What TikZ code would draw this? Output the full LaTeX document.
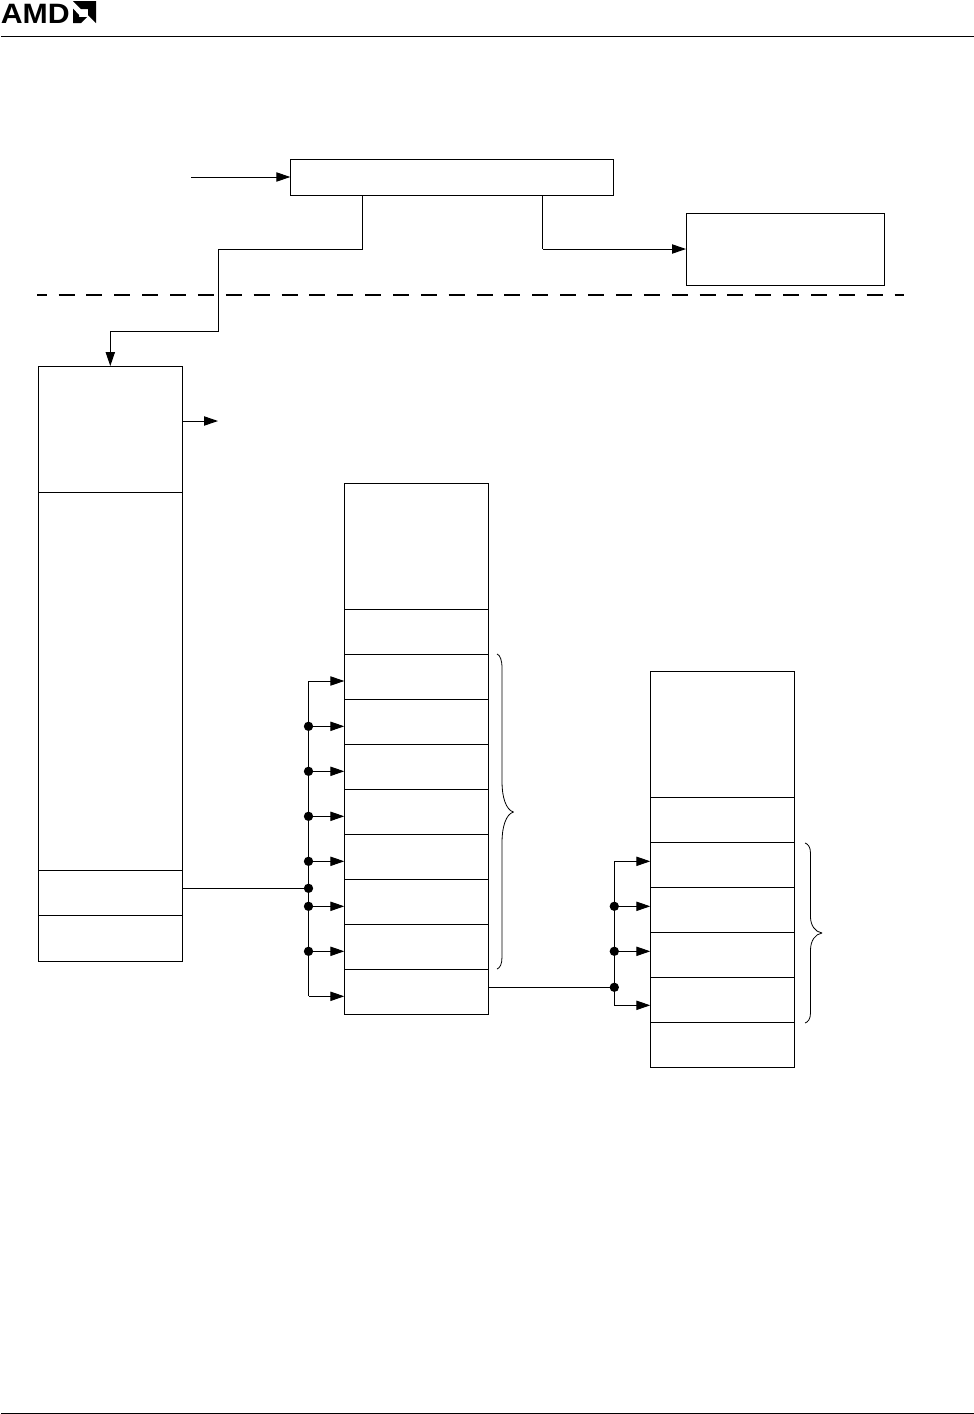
\documentclass[tikz,border=0pt]{standalone}
\usepackage{fontspec}
\newfontfamily\logofont{Liberation Sans}[Scale=1]
\usetikzlibrary{arrows.meta}
\tikzset{
  wire/.style={draw=black,line width=0.75pt},
  arr/.style={wire,-{Triangle[length=10.5pt,width=7pt]}},
  cellbox/.style={draw=black,line width=0.75pt,rectangle,inner sep=0pt,outer sep=0pt},
  junction/.style={circle,fill=black,draw=none,inner sep=0pt,outer sep=0pt,minimum size=7pt},
  bracepath/.style={draw=black,line width=0.6pt,line join=round},
  rule/.style={draw=black,line width=0.75pt},
  logofill/.style={fill=black,draw=none},
  dashrule/.style={draw=black,line width=1.2pt,dash pattern=on 12pt off 8.9pt,dash phase=4.7pt}
}
\newcommand{\cellnode}[5]{\node[cellbox,minimum width={(#4-#2)*0.75pt},minimum height={(#5-#3)*0.75pt}] (#1) at ({(#2+#4)/2},{(#3+#5)/2}) {};}
\begin{document}
\begin{tikzpicture}[x=0.75pt,y=-0.75pt]
\path[use as bounding box,fill=white] (0,0) rectangle (974,1414);
% header, footer
\coordinate (hl) at (1,36.7); \coordinate (hr) at (974,36.7);
\coordinate (fl) at (1,1413); \coordinate (fr) at (974,1413);
\draw[rule] (hl) -- (hr);
\draw[rule] (fl) -- (fr);
% logo
\node[anchor=base west,inner sep=0pt,outer sep=0pt,xscale=1.08] (logotext) at (0.8,23) {\logofont\bfseries\fontsize{21}{23}\selectfont AMD};
\fill[logofill] (73,1) -- (96,1) -- (96,23) -- (88,15) -- (88,9) -- (81,9) -- cycle;
\fill[logofill] (73,8.5) -- (79,15) -- (79,17) -- (87,17) -- (81,23) -- (73,23) -- cycle;
% top boxes
\cellnode{top}{290.3}{159}{613.7}{195}
\cellnode{side}{686}{213}{884.4}{285}
\coordinate (inflow) at (191,177);
\draw[arr] (inflow) -- (inflow -| top.west);
\coordinate (ja) at (362,249); \coordinate (jb) at (218,249);
\coordinate (jc) at (218,331); \coordinate (jd) at (110.3,331);
\coordinate (je) at (542.8,249);
% dashed line
\coordinate (dl) at (37,295); \coordinate (dr) at (903.5,295);
\draw[dashrule] (dl) -- (dr);
% left stack
\cellnode{la}{38.3}{366}{182.5}{492}
\cellnode{lb}{38.3}{492}{182.5}{870}
\cellnode{lc}{38.3}{870}{182.5}{915}
\cellnode{ld}{38.3}{915}{182.5}{961}
\draw[wire] (ja |- top.south) -- (ja) -- (jb) -- (jc) -- (jd) ;
\draw[arr] (jd) -- (jd |- la.north);
\draw[wire] (je |- top.south) -- (je);
\draw[arr] (je) -- (je -| side.west);
\coordinate (lout) at (218,421);
\draw[arr] (lout -| la.east) -- (lout);
% middle stack
\cellnode{ma}{344.3}{483}{488.4}{609}
\cellnode{mb}{344.3}{609}{488.4}{654}
\cellnode{m1}{344.3}{654}{488.4}{699}
\cellnode{m2}{344.3}{699}{488.4}{744}
\cellnode{m3}{344.3}{744}{488.4}{789}
\cellnode{m4}{344.3}{789}{488.4}{834}
\cellnode{m5}{344.3}{834}{488.4}{879}
\cellnode{m6}{344.3}{879}{488.4}{924}
\cellnode{m7}{344.3}{924}{488.4}{969}
\cellnode{m8}{344.3}{969}{488.4}{1014}
% middle bus
\coordinate (b1) at (308.5,681);
\node[junction] (b2) at (308.5,726.3) {};
\node[junction] (b3) at (308.5,771.3) {};
\node[junction] (b4) at (308.5,816.3) {};
\node[junction] (b5) at (308.5,861.3) {};
\node[junction] (bin) at (308.5,888.3) {};
\node[junction] (b6) at (308.5,906.3) {};
\node[junction] (b7) at (308.5,951.3) {};
\coordinate (b8) at (308.5,996.3);
\draw[wire] (b1) -- (b8);
\foreach \k/\m in {b1/m1,b2/m2,b3/m3,b4/m4,b5/m5,b6/m6,b7/m7,b8/m8}
  \draw[arr] (\k) -- (\k -| \m.west);
\draw[wire] (bin -| lc.east) -- (bin);
% right stack
\cellnode{ra}{650.3}{671}{794.5}{797}
\cellnode{rb}{650.3}{797}{794.5}{842}
\cellnode{r1}{650.3}{842}{794.5}{887}
\cellnode{r2}{650.3}{887}{794.5}{932}
\cellnode{r3}{650.3}{932}{794.5}{977}
\cellnode{r4}{650.3}{977}{794.5}{1022}
\cellnode{r5}{650.3}{1022}{794.5}{1067}
% right bus
\coordinate (c1) at (614.3,861.3);
\node[junction] (c2) at (614.3,906.3) {};
\node[junction] (c3) at (614.3,951.3) {};
\node[junction] (cin) at (614.3,987.3) {};
\coordinate (c4) at (614.3,1005.3);
\draw[wire] (c1) -- (c4);
\foreach \k/\m in {c1/r1,c2/r2,c3/r3,c4/r4}
  \draw[arr] (\k) -- (\k -| \m.west);
\draw[wire] (cin -| m8.east) -- (cin);
% braces
\draw[bracepath] (497,654) .. controls (500,655) and (502,660) .. (502,668) -- (502,782)
  .. controls (502,797) and (506,810) .. (513.5,812)
  .. controls (506,814) and (502,827) .. (502,842) -- (502,957)
  .. controls (502,964) and (500,968) .. (497,969);
\draw[bracepath] (805,843) .. controls (808,844) and (810.5,847) .. (810.5,853) -- (810.5,917)
  .. controls (810.5,925) and (815,932) .. (822,933)
  .. controls (815,934) and (810.5,941) .. (810.5,950) -- (810.5,1013)
  .. controls (810.5,1019) and (808,1022) .. (805,1023);
\end{tikzpicture}
\end{document}
